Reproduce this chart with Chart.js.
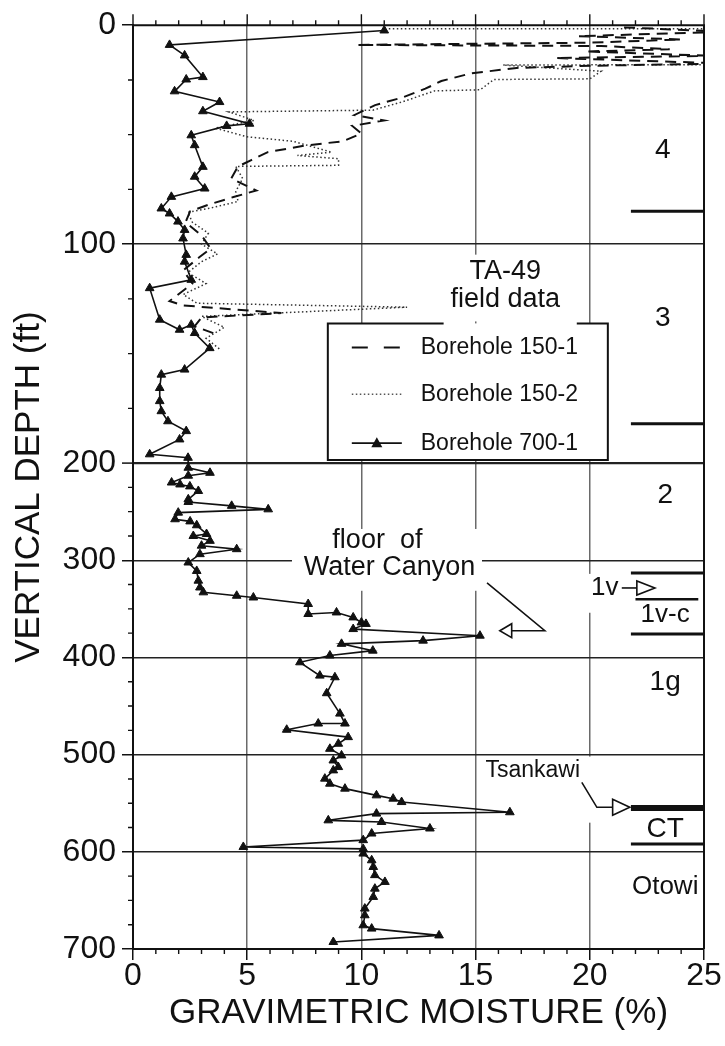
<!DOCTYPE html>
<html>
<head>
<meta charset="utf-8">
<title>TA-49 gravimetric moisture</title>
<script src="https://cdn.jsdelivr.net/npm/chart.js@4.4.1/dist/chart.umd.min.js"></script>
<style>
  html, body { margin: 0; padding: 0; background: #fff; }
  #wrap { position: relative; width: 725px; height: 1046px; }
</style>
</head>
<body>
<div id="wrap"><canvas id="moistureChart"></canvas></div>
<script>
// Borehole 700-1 (solid, triangles): depth (ft) and moisture (%)
const depth7001 = [2.4, 9.0, 13.8, 23.7, 24.8, 30.2, 35.1, 39.3, 45.0, 46.0, 50.3, 54.8, 64.7, 69.2, 74.6, 78.4, 83.7, 86.0, 89.7, 93.5,
  97.4, 104.9, 108.0, 116.3, 120.1, 134.5, 139.1, 136.8, 140.6, 147.5, 157.3, 159.6, 165.7, 171.7, 176.3, 180.9, 185.4, 189.2, 196.0, 197.6,
  204.8, 210.0, 213.0, 220.0, 222.0, 224.0, 228.7, 237.3, 240.0, 244.0, 247.6, 251.0, 257.8, 260.0, 264.0, 273.0, 275.0, 280.0, 285.0, 288.6,
  293.7, 302.3, 311.0, 321.0, 328.0, 333.0, 336.5, 338.3, 345.0, 355.3, 353.7, 358.8, 364.0, 365.5, 370.8, 377.6, 382.7, 386.0, 393.0, 398.0,
  405.0, 418.7, 420.4, 436.8, 457.8, 468.0, 468.0, 474.4, 482.0, 488.8, 494.0, 500.8, 506.0, 512.8, 516.2, 524.7, 529.9, 535.0, 541.9, 545.3,
  548.8, 559.3, 560.7, 567.6, 569.3, 576.0, 581.2, 588.0, 595.0, 597.0, 601.8, 608.7, 615.6, 624.0, 631.0, 637.9, 646.4, 658.4, 665.3, 675.6,
  679.0, 686.0, 692.8];
const moisture7001 = [11.0, 1.6, 2.26, 3.06, 2.33, 1.82, 3.79, 3.06, 5.1, 4.1, 2.55, 2.7, 3.06, 2.7, 3.14, 1.68, 1.24, 1.6, 1.97, 2.26,
  2.19, 2.33, 2.26, 2.55, 0.73, 1.17, 2.04, 2.55, 2.7, 3.36, 2.26, 1.24, 1.17, 1.17, 1.24, 1.53, 2.33, 2.04, 0.73, 2.41,
  2.42, 3.37, 2.42, 1.69, 2.06, 2.49, 2.86, 2.42, 2.42, 4.32, 5.92, 1.98, 1.84, 2.5, 2.79, 3.22, 2.64, 3.37, 3.0, 4.54,
  2.93, 2.42, 2.79, 2.86, 2.93, 3.08, 4.54, 5.27, 7.67, 7.67, 8.91, 9.64, 10.0, 10.2, 9.64, 15.19, 12.7, 9.13, 10.5, 8.62,
  7.31, 8.18, 8.84, 8.48, 9.06, 9.28, 8.11, 6.73, 9.42, 8.99, 8.62, 9.13, 8.77, 8.99, 8.77, 8.4, 8.62, 9.28, 10.66, 11.39,
  11.76, 16.5, 10.66, 8.55, 10.88, 13.0, 10.45, 10.08, 4.83, 10.08, 10.08, 10.45, 10.52, 10.59, 11.03, 10.59, 10.52, 10.15, 10.15, 10.08,
  10.45, 13.4, 8.77];

// Borehole 150-1 (dashed)
const depth1501 = [1.0, 3.0, 5.0, 6.5, 8.0, 9.0, 9.5, 11.0, 12.0, 14.0, 15.0, 17.5, 18.5, 19.5, 22.0, 25.5, 29.0, 33.0, 36.5, 41.0,
  43.5, 46.0, 49.5, 53.0, 55.0, 58.0, 61.5, 64.5, 70.0, 75.5, 78.5, 82.0, 85.0, 90.0, 96.0, 102.0, 106.0, 112.0, 118.0, 126.0,
  128.0, 131.5, 133.5, 137.5, 141.0];
const moisture1501 = [21.5, 26.0, 19.5, 24.0, 20.0, 9.8, 20.5, 23.5, 19.8, 25.5, 18.5, 26.0, 20.2, 16.8, 14.8, 13.5, 12.8, 11.8, 10.6, 9.7,
  11.0, 9.6, 10.0, 9.2, 7.5, 5.9, 5.2, 4.6, 4.3, 5.4, 4.4, 3.3, 2.5, 2.3, 3.0, 3.4, 2.9, 2.2, 2.6, 1.6,
  2.2, 6.5, 3.0, 2.7, 3.6];

// Borehole 150-2 (dotted)
const depth1502 = [1.6, 1.6, 18.0, 18.2, 21.0, 24.5, 24.8, 29.5, 30.0, 35.0, 38.8, 39.6, 43.5, 47.0, 51.0, 53.0, 58.0, 59.5, 61.0, 64.0,
  64.5, 70.0, 76.0, 80.5, 83.5, 85.5, 90.0, 95.0, 100.0, 104.5, 108.0, 113.0, 118.0, 123.0, 127.0, 128.8, 133.0, 138.0, 143.0, 148.0];
const moisture1502 = [11.2, 26.0, 26.0, 16.2, 20.5, 20.0, 15.8, 15.2, 13.2, 11.8, 10.5, 4.2, 5.3, 3.6, 5.0, 7.0, 8.7, 7.2, 9.0, 9.0,
  4.5, 4.8, 4.5, 4.6, 3.4, 2.4, 2.6, 3.3, 3.0, 3.7, 3.0, 2.4, 3.2, 2.2, 2.8, 12.0, 3.0, 4.0, 3.2, 3.8];

// Stratigraphic unit contacts (ft) and unit names
const contactDepths = [85, 182, 313, 340, 376, 555, 592];
const unitNames = ["4", "3", "2", "1v-c", "1g", "CT", "Otowi"];
const unitLabelDepths = [57, 134, 233, 356, 426, 577, 636];

const xTicks = [0, 5, 10, 15, 20, 25];
const depthTicks = [0, 100, 200, 300, 400, 500, 600, 700];

const FONT = "'Liberation Sans', Arial, Helvetica, sans-serif";
const INK = "#111";

// depth axis: 0-200 ft gets more room than 200-700 ft
const DEPTH_MAX = 700;
const DEPTH_BREAK = 200;
const BREAK_FRACTION = 0.474;

function depthToFraction(d) {
  if (d <= DEPTH_BREAK) return (d / DEPTH_BREAK) * BREAK_FRACTION;
  return BREAK_FRACTION + ((d - DEPTH_BREAK) / (DEPTH_MAX - DEPTH_BREAK)) * (1 - BREAK_FRACTION);
}

function fractionToDepth(f) {
  if (f <= BREAK_FRACTION) return (f / BREAK_FRACTION) * DEPTH_BREAK;
  return DEPTH_BREAK + ((f - BREAK_FRACTION) / (1 - BREAK_FRACTION)) * (DEPTH_MAX - DEPTH_BREAK);
}

class BrokenDepthScale extends Chart.LinearScale {
  getPixelForValue(value) {
    if (value === null || value === undefined) return NaN;
    return this.getPixelForDecimal(depthToFraction(value));
  }
  getValueForPixel(pixel) {
    return fractionToDepth(this.getDecimalForPixel(pixel));
  }
}
BrokenDepthScale.id = "brokenDepth";
BrokenDepthScale.defaults = {};
Chart.register(BrokenDepthScale);

function toPoints(xs, ys) {
  return xs.map((x, i) => ({ x, y: ys[i] }));
}

function label(ctx, str, x, y, size, align = "center") {
  ctx.font = `${size}px ${FONT}`;
  ctx.textAlign = align;
  ctx.textBaseline = "middle";
  ctx.fillText(str, x, y);
}

function line(ctx, pts, width) {
  ctx.lineWidth = width;
  ctx.beginPath();
  ctx.moveTo(pts[0][0], pts[0][1]);
  for (let i = 1; i < pts.length; i++) ctx.lineTo(pts[i][0], pts[i][1]);
  ctx.stroke();
}

function openArrow(ctx, tipX, y, dir, len, half) {
  ctx.beginPath();
  ctx.moveTo(tipX, y);
  ctx.lineTo(tipX - dir * len, y - half);
  ctx.lineTo(tipX - dir * len, y + half);
  ctx.closePath();
  ctx.fillStyle = "#fff";
  ctx.fill();
  ctx.lineWidth = 1.6;
  ctx.stroke();
  ctx.fillStyle = INK;
}

// labels, unit contacts and the boxed legend
const overlayPlugin = {
  id: "overlay",
  beforeDatasetsDraw(chart) {
    const { ctx } = chart;
    const xs = chart.scales.x;
    const ys = chart.scales.y;
    const X = (v) => xs.getPixelForValue(v);
    const Y = (d) => ys.getPixelForValue(d);

    ctx.save();
    ctx.fillStyle = "#fff";
    [
      [6.96, 267.8, 15.28, 331.4],
      [19.8, 314, 21.4, 354],
      [15.28, 502, 20.36, 570],
      [13.6, 104.8, 19.43, 135.3],
      [8.53, 136.2, 20.79, 198.6],
    ].forEach(([x0, d0, x1, d1]) => {
      ctx.fillRect(X(x0), Y(d0), X(x1) - X(x0), Y(d1) - Y(d0));
    });

    ctx.strokeStyle = INK;
    ctx.fillStyle = INK;

    // unit contacts along the right edge
    const right = chart.chartArea.right;
    contactDepths.forEach((d, i) => {
      const start = i === 3 ? X(22.0) : X(21.8);
      const end = i === 3 ? X(24.75) : right;
      const w = i === 5 ? 6 : i === 3 ? 2.5 : 3;
      line(ctx, [[start, Y(d)], [end, Y(d)]], w);
    });
    unitNames.forEach((name, i) => {
      const size = name.length > 2 ? 26 : 28;
      label(ctx, name, X(i < 2 ? 23.2 : 23.3), Y(unitLabelDepths[i]), size);
    });

    // 1v pointer
    label(ctx, "1v", X(20.65), Y(328.5), 26);
    line(ctx, [[X(21.4), Y(328.5)], [X(22.06), Y(328.5)]], 1.6);
    openArrow(ctx, X(22.85), Y(328.5), 1, X(22.85) - X(22.06), 7);

    // Tsankawi pointer
    label(ctx, "Tsankawi", X(17.5), Y(516), 23);
    line(ctx, [[X(19.65), Y(528.5)], [X(20.31), Y(554.2)], [X(21.0), Y(554.2)]], 1.6);
    openArrow(ctx, X(21.75), Y(554.2), 1, X(21.75) - X(21.0), 8);

    // floor of Water Canyon
    label(ctx, "floor  of", X(10.7), Y(280), 27);
    label(ctx, "Water Canyon", X(11.23), Y(308), 27);
    line(ctx, [[X(15.5), Y(323.2)], [X(18.03), Y(372.5)], [X(16.58), Y(372.5)]], 1.6);
    openArrow(ctx, X(16.06), Y(372.5), -1, X(16.58) - X(16.06), 7);

    // legend box with its title set into the top edge
    const bx0 = X(8.53), bx1 = X(20.79), by0 = Y(136.2), by1 = Y(198.6);
    ctx.lineWidth = 2;
    ctx.beginPath();
    ctx.moveTo(X(13.6), by0);
    ctx.lineTo(bx0, by0);
    ctx.lineTo(bx0, by1);
    ctx.lineTo(bx1, by1);
    ctx.lineTo(bx1, by0);
    ctx.lineTo(X(19.43), by0);
    ctx.stroke();
    label(ctx, "TA-49", X(16.3), Y(112.5), 27);
    label(ctx, "field data", X(16.3), Y(125.5), 27);

    const sx0 = X(9.58), sx1 = X(11.77);
    const rows = [147.2, 168.6, 190.9];
    const names = ["Borehole 150-1", "Borehole 150-2", "Borehole 700-1"];
    ctx.setLineDash([16, 16]);
    line(ctx, [[sx0, Y(rows[0])], [sx1, Y(rows[0])]], 2);
    ctx.setLineDash([1.5, 2.5]);
    ctx.strokeStyle = "#555";
    line(ctx, [[sx0, Y(rows[1])], [sx1, Y(rows[1])]], 1.5);
    ctx.setLineDash([]);
    ctx.strokeStyle = INK;
    line(ctx, [[sx0, Y(rows[2])], [sx1, Y(rows[2])]], 1.8);
    const tx = (sx0 + sx1) / 2, ty = Y(rows[2]);
    ctx.beginPath();
    ctx.moveTo(tx, ty - 6);
    ctx.lineTo(tx + 5.5, ty + 4);
    ctx.lineTo(tx - 5.5, ty + 4);
    ctx.closePath();
    ctx.fill();
    names.forEach((n, i) => label(ctx, n, X(12.6), Y(rows[i]), 23, "left"));
    ctx.restore();
  },

  // closed frame plus minor ticks
  afterDatasetsDraw(chart) {
    const { ctx, chartArea: a } = chart;
    const xs = chart.scales.x;
    const ys = chart.scales.y;
    ctx.save();
    ctx.strokeStyle = INK;
    line(ctx, [[a.left, a.top], [a.right, a.top], [a.right, a.bottom]], 2);
    ctx.lineWidth = 1.4;
    ctx.beginPath();
    for (let v = 0; v <= 25; v++) {
      const px = xs.getPixelForValue(v);
      ctx.moveTo(px, a.top);
      ctx.lineTo(px, a.top - (v % 5 === 0 ? 11 : 5));
      if (v % 5 !== 0) {
        ctx.moveTo(px, a.bottom);
        ctx.lineTo(px, a.bottom + 5);
      }
    }
    for (let d = 25; d < 700; d += 25) {
      if (d % 100 === 0) continue;
      const py = ys.getPixelForValue(d);
      ctx.moveTo(a.left, py);
      ctx.lineTo(a.left - 5, py);
    }
    ctx.stroke();
    ctx.restore();
  },
};

const ctx = document.getElementById("moistureChart").getContext("2d");
new Chart(ctx, {
  type: "scatter",
  data: {
    datasets: [
      {
        label: "Borehole 700-1",
        data: toPoints(moisture7001, depth7001),
        showLine: true,
        borderColor: INK,
        borderWidth: 1.6,
        pointStyle: "triangle",
        pointRadius: 5,
        pointBackgroundColor: INK,
        pointBorderColor: INK,
        pointBorderWidth: 1,
        order: 0,
      },
      {
        label: "Borehole 150-1",
        data: toPoints(moisture1501, depth1501),
        showLine: true,
        borderColor: INK,
        borderWidth: 2,
        borderDash: [11, 7],
        pointRadius: 0,
        order: 1,
      },
      {
        label: "Borehole 150-2",
        data: toPoints(moisture1502, depth1502),
        showLine: true,
        borderColor: "#333",
        borderWidth: 1.5,
        borderDash: [1.5, 2.5],
        pointRadius: 0,
        order: 2,
      },
    ],
  },
  options: {
    responsive: true,
    maintainAspectRatio: false,
    animation: false,
    layout: { padding: { top: 23, right: 21, left: 0, bottom: 0 } },
    plugins: { legend: { display: false }, tooltip: { enabled: false } },
    scales: {
      x: {
        type: "linear",
        position: "bottom",
        min: 0,
        max: 25,
        afterFit(scale) { scale.height = 97; },
        afterBuildTicks(scale) { scale.ticks = xTicks.map((v) => ({ value: v })); },
        ticks: { color: INK, font: { family: FONT, size: 32 }, padding: -3, maxRotation: 0 },
        grid: {
          color: (c) => (c.tick && c.tick.value > 0 && c.tick.value < 25 ? "#6a6a6a" : "rgba(0,0,0,0)"),
          lineWidth: 1.5,
          tickColor: INK,
          tickLength: 11,
          tickWidth: 1.5,
        },
        border: { display: true, color: INK, width: 2 },
        title: {
          display: true,
          text: "GRAVIMETRIC MOISTURE (%)",
          color: INK,
          font: { family: FONT, size: 35 },
          padding: { top: 0, bottom: 12 },
        },
      },
      y: {
        type: "brokenDepth",
        position: "left",
        reverse: true,
        min: 0,
        max: DEPTH_MAX,
        afterFit(scale) { scale.width = 133; },
        afterBuildTicks(scale) { scale.ticks = depthTicks.map((v) => ({ value: v })); },
        ticks: { color: INK, font: { family: FONT, size: 32 }, padding: 6 },
        grid: {
          color: (c) => (c.tick && c.tick.value > 0 && c.tick.value < 700 ? "#222" : "rgba(0,0,0,0)"),
          lineWidth: (c) => (c.tick && c.tick.value === 200 ? 2.2 : 1.5),
          tickColor: INK,
          tickLength: 11,
          tickWidth: 1.5,
        },
        border: { display: true, color: INK, width: 2 },
        title: {
          display: true,
          text: "VERTICAL DEPTH (ft)",
          color: INK,
          font: { family: FONT, size: 35 },
          padding: { top: 8, bottom: 0 },
        },
      },
    },
  },
  plugins: [overlayPlugin],
});
</script>
</body>
</html>
